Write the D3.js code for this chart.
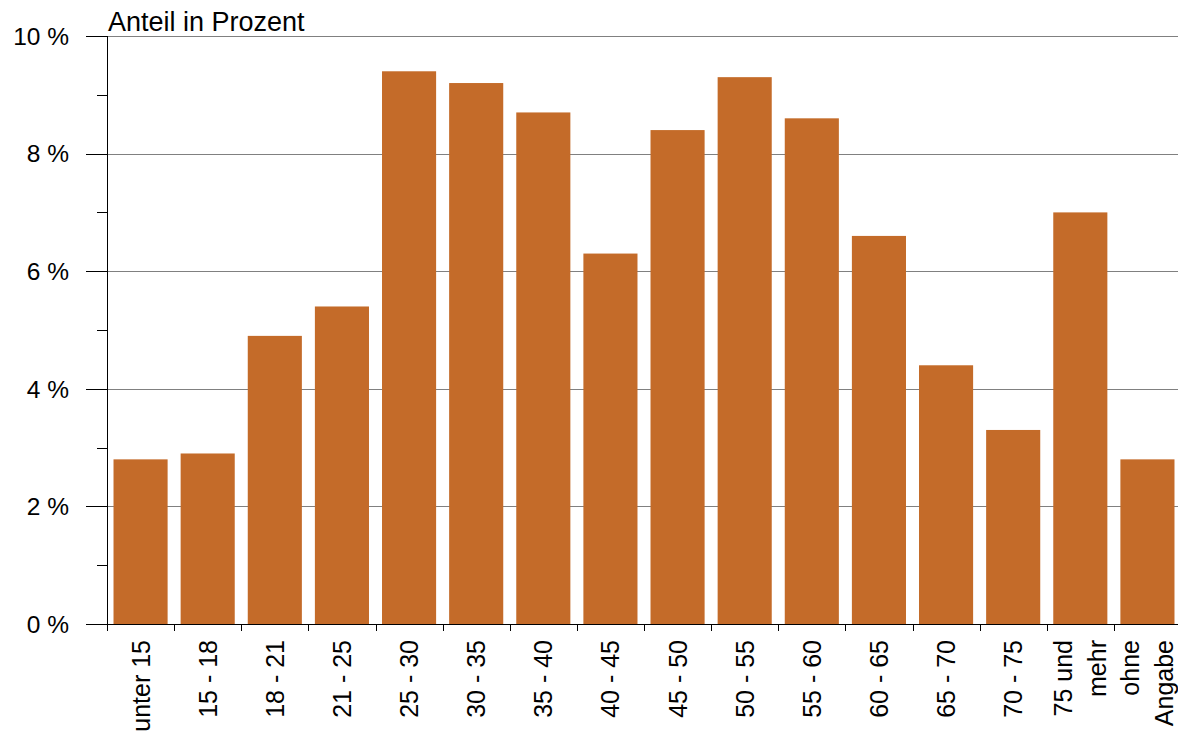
<!DOCTYPE html>
<html><head><meta charset="utf-8">
<script src="https://cdn.jsdelivr.net/npm/d3@7"></script>
<style>body{margin:0;background:#fff}svg{display:block;font-family:"Liberation Sans",Arial,sans-serif}</style>
</head><body>
<script>
const categories = [["unter 15"],["15 - 18"],["18 - 21"],["21 - 25"],["25 - 30"],["30 - 35"],["35 - 40"],["40 - 45"],["45 - 50"],["50 - 55"],["55 - 60"],["60 - 65"],["65 - 70"],["70 - 75"],["75 und","mehr"],["ohne","Angabe"]];
const values = [2.8,2.9,4.9,5.4,9.4,9.2,8.7,6.3,8.4,9.3,8.6,6.6,4.4,3.3,7.0,2.8];
const majorTicks = [0,2,4,6,8,10];
const minorTicks = [1,3,5,7,9];
const yTitle = "Anteil in Prozent";

const W=1178,H=735;
const svg=d3.select("body").append("svg").attr("width",W).attr("height",H);
const keys=categories.map((c,i)=>i);
const x=d3.scaleBand().domain(keys).range([107,1181]).paddingInner(0.194).paddingOuter(0.097);
const y=d3.scaleLinear().domain([0,10]).range([624,36]);
const step=x.step(), gap=step*x.paddingInner();

// gridlines
svg.append("g").selectAll("line").data(majorTicks.filter(d=>d>0)).join("line")
  .attr("x1",107).attr("x2",W).attr("y1",d=>Math.round(y(d))+0.5).attr("y2",d=>Math.round(y(d))+0.5)
  .attr("stroke","#808080").attr("stroke-width",1);

// bars
svg.append("g").selectAll("rect").data(values).join("rect")
  .attr("x",(d,i)=>x(i)).attr("width",x.bandwidth())
  .attr("y",d=>y(d)).attr("height",d=>y(0)-y(d)).attr("fill","#c46b29");

// y axis
const ya=svg.append("g");
ya.append("line").attr("x1",107.5).attr("x2",107.5).attr("y1",36).attr("y2",631).attr("stroke","#000");
ya.selectAll(".maj").data(majorTicks).join("line").attr("class","maj")
  .attr("x1",86).attr("x2",107).attr("y1",d=>Math.round(y(d))+0.5).attr("y2",d=>Math.round(y(d))+0.5).attr("stroke","#000");
ya.selectAll(".min").data(minorTicks).join("line").attr("class","min")
  .attr("x1",97).attr("x2",107).attr("y1",d=>Math.round(y(d))+0.5).attr("y2",d=>Math.round(y(d))+0.5).attr("stroke","#000");
ya.selectAll("text").data(majorTicks).join("text")
  .attr("x",69).attr("y",d=>y(d)).attr("dy","0.36em").attr("text-anchor","end")
  .attr("font-size",24.5).attr("fill","#000").text(d=>d+" %");

// x axis
const xa=svg.append("g");
xa.append("line").attr("x1",107).attr("x2",W).attr("y1",624.5).attr("y2",624.5).attr("stroke","#000");
const bounds=keys.map(i=>x(i)-gap/2).concat([x(keys.length-1)+x.bandwidth()+gap/2]);
xa.selectAll(".tk").data(bounds).join("line").attr("class","tk")
  .attr("x1",d=>Math.round(d)+0.5).attr("x2",d=>Math.round(d)+0.5).attr("y1",624).attr("y2",631).attr("stroke","#000");
const lab=xa.selectAll(".lab").data(categories).join("g").attr("class","lab")
  .attr("transform",(d,i)=>`translate(${x(i)+x.bandwidth()/2},640)`);
lab.each(function(lines){
  const g=d3.select(this);
  const n=lines.length, sp=34;
  lines.forEach((t,j)=>{
    const off=(j-(n-1)/2)*sp;
    g.append("text").attr("transform",`translate(${off},0) rotate(-90)`)
      .attr("text-anchor","end").attr("dy","0.36em").attr("font-size",25).attr("fill","#000").text(t);
  });
});

// title
svg.append("text").attr("x",108).attr("y",31).attr("font-size",27).attr("fill","#000").text(yTitle);
</script>
</body></html>
